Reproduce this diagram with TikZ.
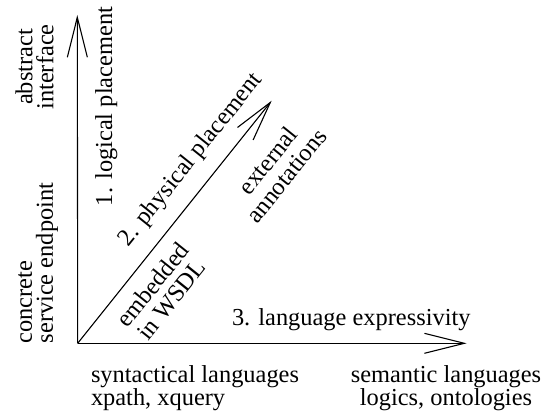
\documentclass[tikz,border=0pt]{standalone}
\usepackage{fontspec}
\setmainfont{Liberation Serif}
\usetikzlibrary{arrows.meta}
\tikzset{
  lbl/.style={font=\fontsize{24.4}{21}\selectfont, inner sep=0pt, outer sep=0pt},
  dlbl/.style={lbl, font=\fontsize{24.4}{24}\selectfont, rotate=51.3, align=center},
  axis/.style={line width=1.1pt, -{Straight Barb[length=40pt,width=20pt]}},
}
\begin{document}
\begin{tikzpicture}[x=1pt,y=-1pt]
\useasboundingbox (0,0) rectangle (545,412);
\coordinate (O) at (77.7,343.3);
\coordinate (T) at (77.3,15);
\coordinate (R) at (466.7,343.3);
\coordinate (D) at (271.7,100.7);
\draw[axis] (O) -- (T);
\draw[axis] (O) -- (R);
\draw[axis] (O) -- (D);
\node[lbl, rotate=90, align=center] (abs) at (34.6,67) {abstract\\interface};
\node[lbl, rotate=90, align=left, anchor=south west] (conc) at (58,343.3) {concrete\\service endpoint};
\node[lbl, rotate=90] (lp) at (106.3,106.5) {1. logical placement};
\node[lbl, rotate=51.3] (pp) at (191.1,160) {2. physical placement};
\node[dlbl] (emb) at (162,292) {embedded\\in WSDL};
\node[dlbl] (ext) at (277,168) {external\\annotations};
\node[lbl, anchor=base west] (le) at (232,325) {3. language expressivity};
\node[lbl, align=left, anchor=north west] (syn) at (91,365.3) {syntactical languages\\xpath, xquery};
\node[lbl, align=center, anchor=north] (sem) at (446,365.3) {semantic languages\\logics, ontologies};
\end{tikzpicture}
\end{document}
